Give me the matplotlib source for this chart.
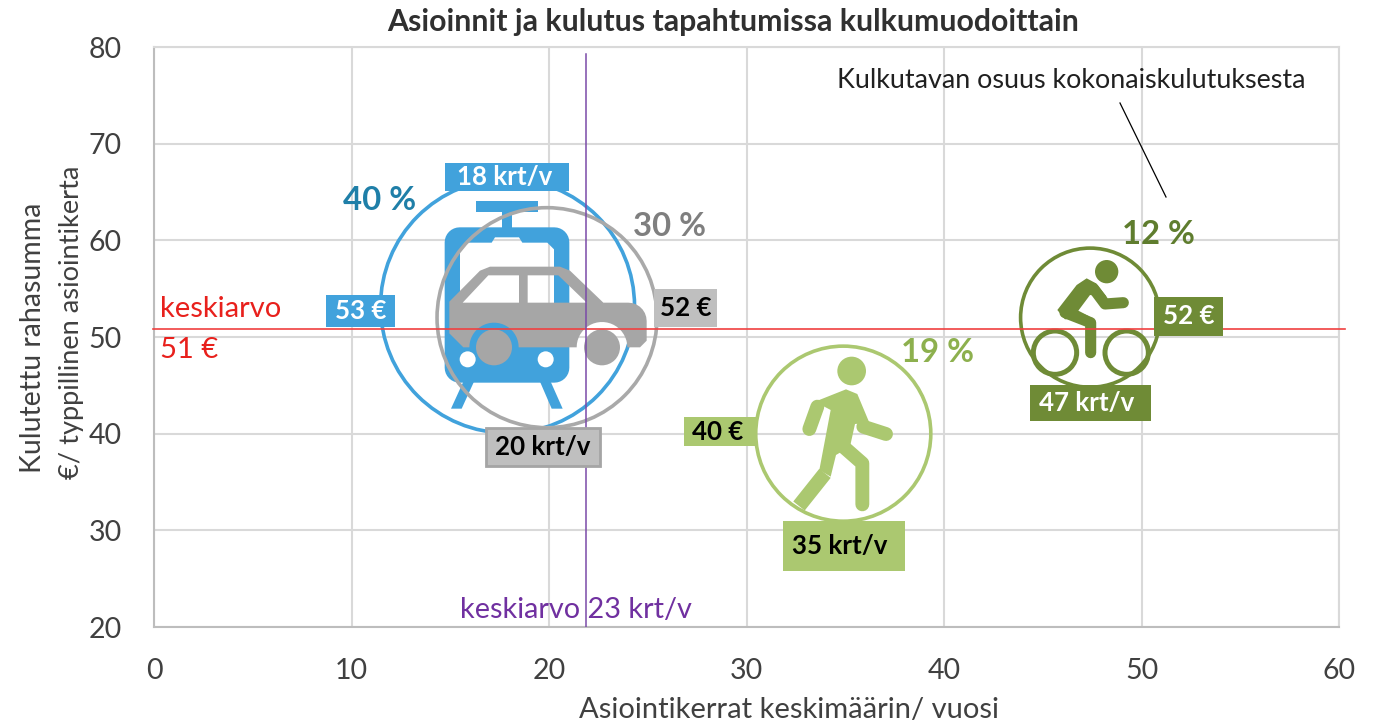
import numpy as np
import matplotlib
matplotlib.use("Agg")
import matplotlib.pyplot as plt
from matplotlib.path import Path
from matplotlib.patches import PathPatch, Circle, Rectangle
from matplotlib.lines import Line2D
from matplotlib.transforms import Affine2D

# ---------- data ----------
modes = ["Joukkoliikenne", "Auto", "Kävely", "Pyörä"]
visits = [17.9, 19.9, 34.9, 47.4]
spend = [53.2, 52.0, 40.0, 52.0]
share = [40, 30, 19, 12]
visit_labels = ["18 krt/v", "20 krt/v", "35 krt/v", "47 krt/v"]
spend_labels = ["53 €", "52 €", "40 €", "52 €"]
share_labels = ["40 %", "30 %", "19 %", "12 %"]
mean_visits = 21.85
mean_spend = 50.83
title = "Asioinnit ja kulutus tapahtumissa kulkumuodoittain"
xlabel = "Asiointikerrat keskimäärin/ vuosi"
ylabel1 = "Kulutettu rahasumma"
ylabel2 = "€/ typpillinen asiointikerta"
xticks = [0, 10, 20, 30, 40, 50, 60]
yticks = [20, 30, 40, 50, 60, 70, 80]

# ---------- style ----------
BLUE, GRAY, LGREEN, DGREEN = "#41a2dc", "#a6a6a6", "#abc870", "#6f8b36"
W, H = 1375, 726
plt.rcParams["font.family"] = ["Lato", "DejaVu Sans"]
fig = plt.figure(figsize=(W / 100, H / 100), dpi=100)
L, R, T, B = 154, 1339, 47, 627
ax = fig.add_axes([L / W, 1 - B / H, (R - L) / W, (B - T) / H])
ax.set_xlim(0, 60)
ax.set_ylim(20, 80)
ax.set_xticks(xticks)
ax.set_yticks(yticks)
ax.grid(True, color="#d9d9d9", lw=1.5, zorder=0)
ax.set_axisbelow(True)
for s in ax.spines.values():
    s.set_color("#d9d9d9")
    s.set_linewidth(1.5)
ax.spines["left"].set_color("#bdbdbd")
ax.spines["bottom"].set_color("#bdbdbd")
ax.tick_params(length=0, labelsize=20.5, labelcolor="#404040")
ax.tick_params(axis="y", pad=23)
ax.tick_params(axis="x", pad=22)
for lab in ax.get_xticklabels() + ax.get_yticklabels():
    lab.set_clip_on(False)


def tx(px, py, s, **kw):
    kw.setdefault("ha", "center")
    kw.setdefault("va", "center")
    return fig.text(px / W, 1 - py / H, s, **kw)


tx(733, 22, title, fontsize=21.8, fontweight="bold", color="#303030")
tx(789, 710, xlabel, fontsize=21, color="#404040")
tx(33, 338, ylabel1, fontsize=20.5, color="#404040", rotation=90)
tx(72, 322, ylabel2, fontsize=19.6, color="#404040", rotation=90)

# ---------- bubbles (area follows share) ----------
d_px = 254 * np.sqrt(np.array(share) / 40)
sizes = (d_px * 0.72) ** 2
colors = [BLUE, GRAY, LGREEN, DGREEN]


def crop_tf(ox, oy):
    return Affine2D().scale(1 / 3, -1 / 3).translate(ox, H - oy)


C1 = crop_tf(320, 150)
C2 = crop_tf(740, 230)


def rrect(x0, y0, x1, y1, r):
    pts = []
    for cx, cy, a0 in [(x1 - r, y0 + r, -90), (x1 - r, y1 - r, 0), (x0 + r, y1 - r, 90), (x0 + r, y0 + r, 180)]:
        for a in np.radians(np.linspace(a0, a0 + 90, 9)):
            pts.append((cx + r * np.cos(a), cy + r * np.sin(a)))
    return pts


def arc(cx, cy, r, a0, a1, n=24):
    return [(cx + r * np.cos(a), cy + r * np.sin(a)) for a in np.radians(np.linspace(a0, a1, n))]


def area(p):
    p = np.array(p)
    return 0.5 * np.sum(p[:, 0] * np.roll(p[:, 1], -1) - np.roll(p[:, 0], -1) * p[:, 1])


def shape(outer, *holes):
    if area(outer) < 0:
        outer = outer[::-1]
    paths = [Path(list(outer) + [outer[0]], closed=True)]
    for h in holes:
        if area(h) > 0:
            h = h[::-1]
        paths.append(Path(list(h) + [h[0]], closed=True))
    return Path.make_compound_path(*paths)


def fill(path, color, tf, z):
    ax.add_patch(PathPatch(path, fc=color, ec="none", transform=tf, zorder=z, clip_on=False))


def disc(cx, cy, r, color, tf, z, fc=None, lw=0):
    ax.add_patch(Circle((cx, cy), r, fc=color if fc is None else fc, ec=color if lw else "none",
                        lw=lw, transform=tf, zorder=z, clip_on=False))


def stroke(xs, ys, color, lw, tf, z, cap="round"):
    ax.add_line(Line2D(xs, ys, color=color, lw=lw, transform=tf, zorder=z,
                       solid_capstyle=cap, solid_joinstyle="round", clip_on=False))


# train
z = 3
ax.scatter(visits[0], spend[0], s=sizes[0], fc="none", ec=BLUE, lw=2.6, zorder=z)
fill(shape([(467, 153), (654, 153), (654, 185), (467, 185)]), BLUE, C1, z)
fill(shape([(546, 185), (576, 185), (576, 235), (546, 235)]), BLUE, C1, z)
window = [(440, 278), (515, 278), (525, 262), (597, 262), (607, 278), (682, 278), (702, 298),
          (702, 510), (420, 510), (420, 298)]
fill(shape(rrect(374, 232, 748, 698, 45), window), BLUE, C1, z)
fill(shape([(430, 695), (462, 695), (425, 776), (393, 776)]), BLUE, C1, z)
fill(shape([(660, 695), (692, 695), (728, 776), (695, 776)]), BLUE, C1, z)
disc(443, 628, 24, "white", C1, z + 0.1)
disc(677, 628, 24, "white", C1, z + 0.1)

# car
z = 4
ax.scatter(visits[1], spend[1], s=sizes[1], fc="none", ec="#a9a9a9", lw=2.6, zorder=z)
car = [(388, 455), (480, 362), (510, 350), (720, 350), (750, 362), (850, 458), (925, 458)]
car += arc(925, 513, 55, -90, 0, 8)[1:]
car += [(980, 572), (960, 592), (922, 592)]
car += arc(846, 592, 76, 0, -180, 24)
car += arc(522, 592, 74, 0, -180, 24)
car += [(430, 592), (388, 550)]
win1 = [(428, 458), (505, 376), (597, 376), (597, 458)]
win2 = [(623, 376), (715, 376), (800, 458), (623, 458)]
fill(shape(car, win1, win2), GRAY, C1, z)
disc(522, 592, 54, GRAY, C1, z)
disc(846, 592, 54, GRAY, C1, z)

# walker
z = 3
ax.scatter(visits[2], spend[2], s=sizes[2], fc="none", ec=LGREEN, lw=2.6, zorder=z)
disc(335, 423, 43, LGREEN, C2, z)
fill(shape([(225, 515), (318, 478), (352, 492), (388, 578), (345, 582), (330, 650), (288, 675),
            (272, 740), (238, 720), (272, 540)]), LGREEN, C2, z)
stroke([232, 208], [530, 597], LGREEN, 10, C2, z)
stroke([370, 438], [590, 612], LGREEN, 10, C2, z)
stroke([310, 367, 367], [650, 700, 823], LGREEN, 10, C2, z)
stroke([255, 177], [730, 828], LGREEN, 10.5, C2, z, cap="butt")

# cyclist
ax.scatter(visits[3], spend[3], s=sizes[3], fc="none", ec=DGREEN, lw=2.6, zorder=z)
disc(1100, 125, 35, DGREEN, C2, z)
fill(shape([(1040, 145), (1068, 160), (1100, 200), (1050, 195), (1015, 242), (1050, 260), (975, 268),
            (952, 240), (1010, 165)]), DGREEN, C2, z)
stroke([1060, 1095, 1150], [175, 222, 218], DGREEN, 8, C2, z)
stroke([975, 1052, 1052], [248, 278, 368], DGREEN, 8, C2, z)
disc(945, 368, 65, DGREEN, C2, z, fc="none", lw=3.6)
disc(1160, 368, 65, DGREEN, C2, z, fc="none", lw=3.6)

# ---------- mean lines ----------
ax.plot([-0.05, 60.3], [mean_spend] * 2, color="#f04040", lw=1.2, zorder=6, clip_on=False)
ax.plot([mean_visits] * 2, [20, 79.3], color="#7a4aa8", lw=1.1, zorder=6)
tx(160, 309, "keskiarvo", ha="left", fontsize=21, color="#e8201c", zorder=7)
tx(160, 350, "51 €", ha="left", fontsize=21, color="#e8201c", zorder=7)
tx(576, 610, "keskiarvo 23 krt/v", fontsize=20.8, color="#7030a0", zorder=7)

# ---------- label boxes ----------
OV = fig.add_axes([0, 0, 1, 1], facecolor="none", zorder=10)
OV.set_xlim(0, W)
OV.set_ylim(H, 0)
OV.axis("off")


def box(x0, y0, x1, y1, fc, label, tc, ec="none", lw=0, tcx=None):
    OV.add_patch(Rectangle((x0, y0), x1 - x0, y1 - y0, fc=fc, ec=ec, lw=lw))
    OV.text((x0 + x1) / 2 if tcx is None else tcx, (y0 + y1) / 2, label, ha="center", va="center",
            fontsize=18.6, fontweight="bold", color=tc)


box(445, 163, 569, 191, BLUE, visit_labels[0], "white", tcx=505)
box(326, 295, 395, 327, BLUE, spend_labels[0], "white")
box(654, 289, 717, 327, "#bfbfbf", spend_labels[1], "black")
box(486, 428, 600, 466, "#bfbfbf", visit_labels[1], "black", ec="#a5a5a5", lw=2)
box(684, 417, 757, 446, LGREEN, spend_labels[2], "black", tcx=718)
box(783, 521, 905, 571, LGREEN, visit_labels[2], "black", tcx=840)
box(1030, 385, 1151, 421, DGREEN, visit_labels[3], "white", tcx=1087)
box(1154, 297, 1223, 336, DGREEN, spend_labels[3], "white")

# share labels
share_pos = [(380, 201), (670, 227), (938, 352), (1158, 234)]
share_col = ["#1f7fa8", "#7f7f7f", "#8db04e", "#5f7d2e"]
for (px, py), s, c in zip(share_pos, share_labels, share_col):
    OV.text(px, py, s, ha="center", va="center", fontsize=23.7, fontweight="bold", color=c)

# annotation
OV.text(1071, 80, "Kulkutavan osuus kokonaiskulutuksesta", ha="center", va="center", fontsize=19.4, color="#202020")
OV.plot([1120, 1166], [103, 197], color="black", lw=0.9)

fig.savefig("out.png", dpi=100)
